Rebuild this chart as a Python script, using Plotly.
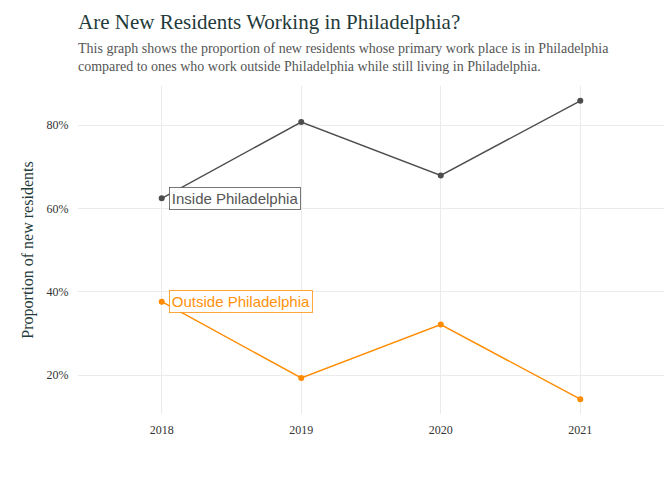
import plotly.graph_objects as go

years = [2018, 2019, 2020, 2021]
inside = [0.624, 0.807, 0.679, 0.858]
outside = [0.376, 0.193, 0.321, 0.142]
series_names = ["Inside Philadelphia", "Outside Philadelphia"]
series_colors = ["#4d4d4d", "#FF8C00"]
y_ticks = [0.2, 0.4, 0.6, 0.8]
y_tick_labels = ["20%", "40%", "60%", "80%"]

title = "Are New Residents Working in Philadelphia?"
subtitle = ("This graph shows the proportion of new residents whose primary work place is in Philadelphia<br>"
            "compared to ones who work outside Philadelphia while still living in Philadelphia.")

SERIF = "Liberation Serif"
SANS = "Liberation Sans"

fig = go.Figure()
for vals, name, col in zip([inside, outside], series_names, series_colors):
    fig.add_trace(go.Scatter(
        x=years, y=vals, mode="lines+markers", name=name,
        line=dict(color=col, width=1.4),
        marker=dict(color=col, size=6),
        showlegend=False,
    ))
    fig.add_annotation(
        x=years[0], y=vals[0], xref="x", yref="y",
        text=name, showarrow=False, xanchor="left", yanchor="middle",
        xshift=7, font=dict(family=SANS, size=15, color=col),
        bgcolor="white", bordercolor=col, borderwidth=0.8, borderpad=2,
        opacity=0.95,
    )

fig.add_annotation(
    x=0, y=1, xref="paper", yref="paper", xanchor="left", yanchor="bottom",
    text=title, showarrow=False, yshift=50, xshift=-2,
    font=dict(family=SERIF, size=21, color="#1f3b3b"),
)
fig.add_annotation(
    x=0, y=1, xref="paper", yref="paper", xanchor="left", yanchor="bottom",
    text=subtitle, showarrow=False, yshift=10, xshift=-2, align="left",
    font=dict(family=SERIF, size=14, color="#555555"),
)

fig.update_layout(
    width=672, height=480,
    margin=dict(l=78, r=8, t=86, b=66),
    plot_bgcolor="white", paper_bgcolor="white",
    font=dict(family=SERIF, color="#333333"),
)
fig.update_xaxes(
    range=[2017.4, 2021.6], tickvals=years, ticktext=[str(y) for y in years],
    showgrid=True, gridcolor="#ebebeb", gridwidth=1, zeroline=False,
    tickfont=dict(family=SERIF, size=12, color="#333333"),
    ticks="outside", ticklen=5, tickcolor="rgba(0,0,0,0)",
    showline=False,
)
fig.update_yaxes(
    range=[0.1064, 0.8936], tickvals=y_ticks, ticktext=y_tick_labels,
    showgrid=True, gridcolor="#ebebeb", gridwidth=1, zeroline=False,
    tickfont=dict(family=SERIF, size=12, color="#333333"),
    ticks="outside", ticklen=6, tickcolor="rgba(0,0,0,0)",
    title=dict(text="Proportion of new residents", font=dict(family=SERIF, size=16, color="#1f3b3b"), standoff=8),
    showline=False,
)

fig.write_html("out.html")
